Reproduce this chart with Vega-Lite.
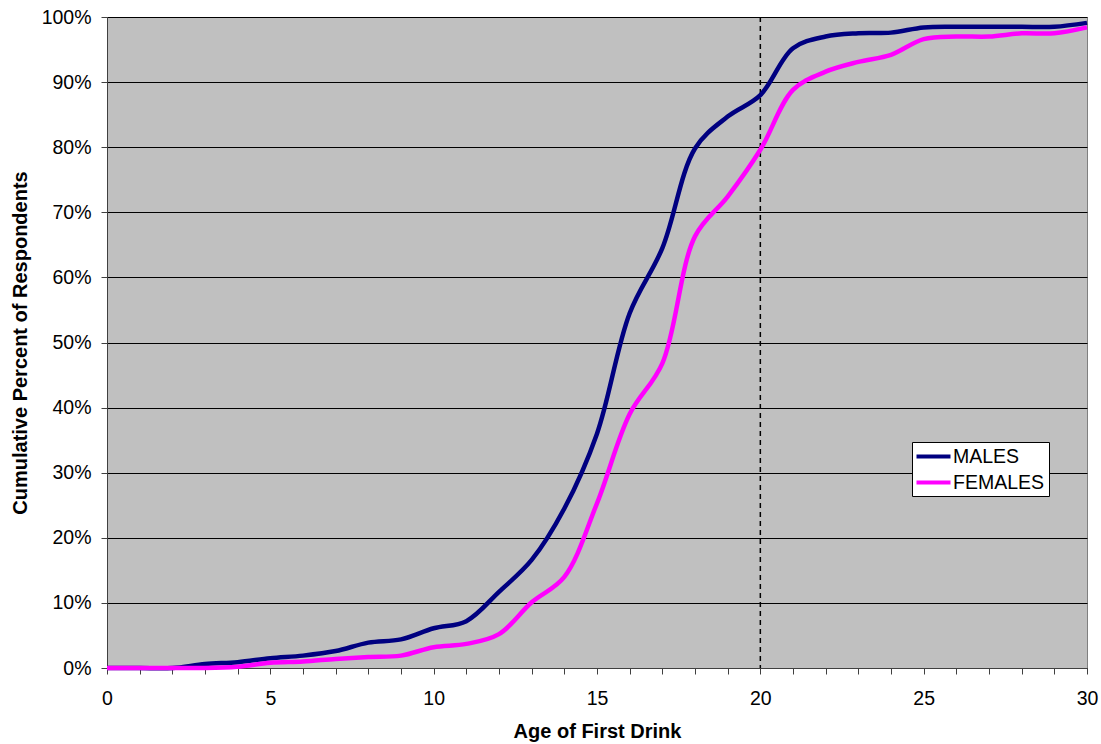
{
  "$schema": "https://vega.github.io/schema/vega-lite/v6.json",
  "width": 980,
  "height": 651,
  "autosize": {"type": "none"},
  "padding": {"left": 107, "top": 17, "right": 14, "bottom": 76},
  "background": "white",
  "config": {
    "view": {"fill": "#C0C0C0", "stroke": "#808080", "strokeWidth": 1},
    "axis": {
      "labelFont": "Liberation Sans",
      "labelFontSize": 19.5,
      "labelColor": "black",
      "titleFont": "Liberation Sans",
      "titleFontSize": 20,
      "titleFontWeight": "bold",
      "titleColor": "black",
      "domainColor": "#404040",
      "tickColor": "#404040",
      "tickSize": 6
    },
    "legend": {
      "labelFont": "Liberation Sans",
      "labelFontSize": 19.5,
      "labelColor": "black"
    }
  },
  "datasets": {
    "ages": [
      {"age": 0, "sex": "MALES", "pct": 0},
      {"age": 1, "sex": "MALES", "pct": 0},
      {"age": 2, "sex": "MALES", "pct": 0},
      {"age": 3, "sex": "MALES", "pct": 0.6},
      {"age": 4, "sex": "MALES", "pct": 0.9},
      {"age": 5, "sex": "MALES", "pct": 1.5},
      {"age": 6, "sex": "MALES", "pct": 1.9},
      {"age": 7, "sex": "MALES", "pct": 2.6},
      {"age": 8, "sex": "MALES", "pct": 3.9},
      {"age": 9, "sex": "MALES", "pct": 4.4},
      {"age": 10, "sex": "MALES", "pct": 6.1},
      {"age": 11, "sex": "MALES", "pct": 7.2},
      {"age": 12, "sex": "MALES", "pct": 11.7},
      {"age": 13, "sex": "MALES", "pct": 16.6},
      {"age": 14, "sex": "MALES", "pct": 24.5},
      {"age": 15, "sex": "MALES", "pct": 36},
      {"age": 16, "sex": "MALES", "pct": 54.5},
      {"age": 17, "sex": "MALES", "pct": 64.5},
      {"age": 18, "sex": "MALES", "pct": 79.8},
      {"age": 19, "sex": "MALES", "pct": 84.7},
      {"age": 20, "sex": "MALES", "pct": 88},
      {"age": 21, "sex": "MALES", "pct": 95.2},
      {"age": 22, "sex": "MALES", "pct": 97},
      {"age": 23, "sex": "MALES", "pct": 97.5},
      {"age": 24, "sex": "MALES", "pct": 97.6},
      {"age": 25, "sex": "MALES", "pct": 98.4},
      {"age": 26, "sex": "MALES", "pct": 98.5},
      {"age": 27, "sex": "MALES", "pct": 98.5},
      {"age": 28, "sex": "MALES", "pct": 98.5},
      {"age": 29, "sex": "MALES", "pct": 98.5},
      {"age": 30, "sex": "MALES", "pct": 99.1},
      {"age": 0, "sex": "FEMALES", "pct": 0},
      {"age": 1, "sex": "FEMALES", "pct": 0},
      {"age": 2, "sex": "FEMALES", "pct": 0},
      {"age": 3, "sex": "FEMALES", "pct": 0},
      {"age": 4, "sex": "FEMALES", "pct": 0.2},
      {"age": 5, "sex": "FEMALES", "pct": 0.8},
      {"age": 6, "sex": "FEMALES", "pct": 1.0},
      {"age": 7, "sex": "FEMALES", "pct": 1.4},
      {"age": 8, "sex": "FEMALES", "pct": 1.7},
      {"age": 9, "sex": "FEMALES", "pct": 1.9},
      {"age": 10, "sex": "FEMALES", "pct": 3.2},
      {"age": 11, "sex": "FEMALES", "pct": 3.7},
      {"age": 12, "sex": "FEMALES", "pct": 5.2},
      {"age": 13, "sex": "FEMALES", "pct": 10.1},
      {"age": 14, "sex": "FEMALES", "pct": 14},
      {"age": 15, "sex": "FEMALES", "pct": 25.3},
      {"age": 16, "sex": "FEMALES", "pct": 39},
      {"age": 17, "sex": "FEMALES", "pct": 46.8},
      {"age": 18, "sex": "FEMALES", "pct": 66.3},
      {"age": 19, "sex": "FEMALES", "pct": 72.4},
      {"age": 20, "sex": "FEMALES", "pct": 79.6},
      {"age": 21, "sex": "FEMALES", "pct": 88.8},
      {"age": 22, "sex": "FEMALES", "pct": 91.6},
      {"age": 23, "sex": "FEMALES", "pct": 93.1},
      {"age": 24, "sex": "FEMALES", "pct": 94.2},
      {"age": 25, "sex": "FEMALES", "pct": 96.6},
      {"age": 26, "sex": "FEMALES", "pct": 97},
      {"age": 27, "sex": "FEMALES", "pct": 97},
      {"age": 28, "sex": "FEMALES", "pct": 97.5},
      {"age": 29, "sex": "FEMALES", "pct": 97.5},
      {"age": 30, "sex": "FEMALES", "pct": 98.4}
    ]
  },
  "data": {"name": "ages"},
  "encoding": {
    "x": {
      "field": "age",
      "type": "quantitative",
      "scale": {"domain": [0, 30], "nice": false, "zero": false},
      "axis": {
        "title": "Age of First Drink",
        "values": [0,1,2,3,4,5,6,7,8,9,10,11,12,13,14,15,16,17,18,19,20,21,22,23,24,25,26,27,28,29,30],
        "labelExpr": "datum.value % 5 === 0 ? datum.label : ''",
        "grid": false,
        "labelPadding": 15,
        "labelFlush": false,
        "labelOverlap": false,
        "titleBaseline": "alphabetic",
        "titleY": 69
      }
    },
    "y": {
      "field": "pct",
      "type": "quantitative",
      "scale": {"domain": [0, 100], "nice": false},
      "axis": {
        "title": "Cumulative Percent of Respondents",
        "values": [0,10,20,30,40,50,60,70,80,90,100],
        "labelExpr": "datum.value + '%'",
        "grid": true,
        "gridColor": "black",
        "gridOpacity": 1,
        "gridWidth": 1,
        "labelPadding": 10,
        "labelFlush": false,
        "labelOverlap": false,
        "titleBaseline": "alphabetic",
        "titleX": -81
      }
    },
    "color": {
      "field": "sex",
      "type": "nominal",
      "scale": {"domain": ["MALES", "FEMALES"], "range": ["#000080", "#FF00FF"]},
      "legend": {
        "title": null,
        "orient": "none",
        "legendX": 805,
        "legendY": 425,
        "fillColor": "white",
        "strokeColor": "black",
        "padding": 4,
        "symbolType": "M-2,0L2,0",
        "symbolStrokeWidth": 4,
        "symbolSize": 289,
        "symbolOffset": 7,
        "labelOffset": 9,
        "rowPadding": 6
      }
    }
  },
  "layer": [
    {
      "data": {"values": [{"ref": 20}]},
      "mark": {"type": "rule", "color": "black", "strokeDash": [5, 4], "strokeWidth": 1.5},
      "encoding": {"x": {"field": "ref", "type": "quantitative"}, "y": null, "color": null}
    },
    {
      "transform": [{"filter": "datum.sex === 'MALES'"}],
      "mark": {"type": "line", "interpolate": "catmull-rom", "strokeWidth": 4.5}
    },
    {
      "transform": [{"filter": "datum.sex === 'FEMALES'"}],
      "mark": {"type": "line", "interpolate": "catmull-rom", "strokeWidth": 4.5}
    }
  ]
}
